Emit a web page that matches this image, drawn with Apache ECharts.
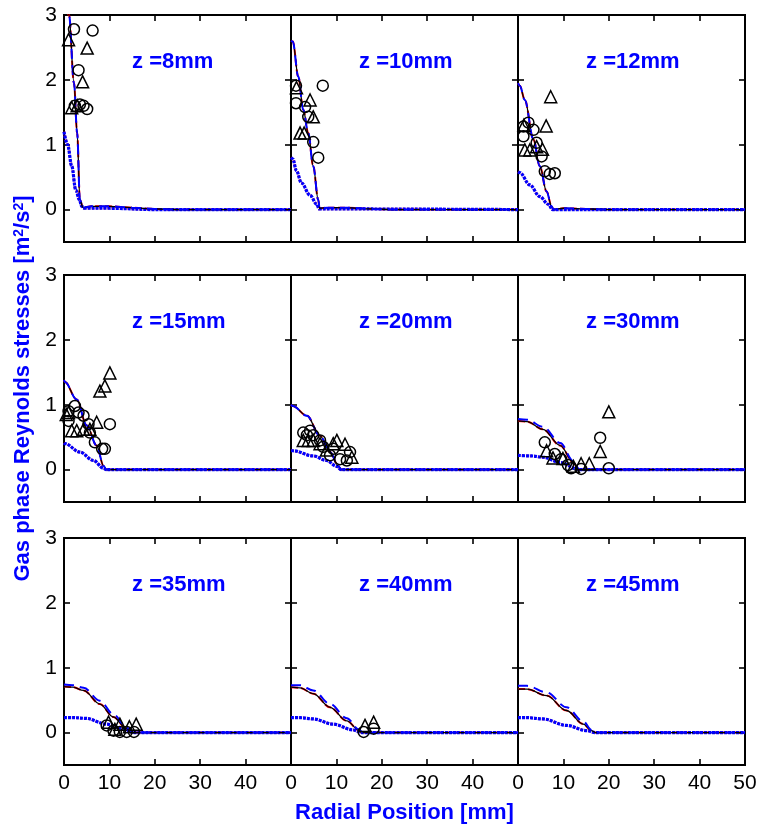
<!DOCTYPE html>
<html>
<head>
<meta charset="utf-8">
<script src="https://cdn.jsdelivr.net/npm/echarts@6/dist/echarts.min.js"></script>
<style>html,body{margin:0;padding:0;background:#fff}#chart{width:760px;height:830px}</style>
</head>
<body>
<div id="chart"></div>
<script>
// ---------- data (radial position mm, stress m2/s2) ----------
const panelLabels = ['z =8mm','z =10mm','z =12mm','z =15mm','z =20mm','z =30mm','z =35mm','z =40mm','z =45mm'];
const xTicks = [0,10,20,30,40,50];
const xLabelsShort = [0,10,20,30,40];
const yTicks = [0,1,2,3];

const z8Upper = [[0,3.2],[1.1,3.0],[2.2,1.95],[2.9,1.18],[3.5,0.15],[4.2,0.03],[6,0.05],[10,0.05],[15,0.03],[20,0.01],[25,0],[50,0]];
const z8Lower = [[0,1.2],[0.8,1.0],[1.7,0.67],[2.6,0.3],[3.4,0.15],[3.9,0.05],[4.5,0.02],[10,0.02],[20,0],[50,0]];
const z8Circles = [[2.2,2.78],[6.3,2.76],[3.2,2.15],[2.4,1.6],[4.3,1.6],[5.1,1.55],[3.5,1.62]];
const z8Triangles = [[1.0,2.62],[5.1,2.49],[4.1,1.97],[1.7,1.57],[2.9,1.6]];

const z10Upper = [[0,2.6],[0.4,2.59],[1.6,2.05],[2.7,1.54],[3.8,1.18],[4.9,0.67],[6.0,0.15],[6.3,0.02],[8,0.03],[12,0.03],[18,0.01],[22,0],[50,0]];
const z10Lower = [[0,0.8],[0.4,0.78],[1.2,0.6],[2.3,0.41],[4.2,0.22],[5.7,0.08],[6.2,0.01],[10,0.01],[50,0]];
const z10Circles = [[1.1,1.91],[7.0,1.91],[1.1,1.64],[3.1,1.58],[3.8,1.43],[4.9,1.04],[6.0,0.8]];
const z10Triangles = [[1.2,1.88],[4.2,1.69],[4.9,1.43],[2.0,1.18],[2.9,1.18]];

const z12Upper = [[0,1.95],[0.4,1.91],[1.5,1.69],[3.4,1.08],[4.8,0.67],[6.3,0.28],[7.4,0.05],[7.8,0],[10,0.02],[15,0.01],[20,0],[50,0]];
const z12Lower = [[0,0.58],[0.4,0.57],[2.6,0.38],[4.8,0.2],[6.7,0.08],[7.6,0],[50,0]];
const z12Circles = [[1.2,1.28],[2.3,1.34],[1.2,1.13],[3.4,1.23],[4.1,1.03],[5.2,0.82],[5.9,0.59],[7.0,0.55],[8.1,0.56]];
const z12Triangles = [[7.2,1.74],[6.2,1.29],[1.5,0.92],[2.6,0.92],[4.1,0.97],[5.4,0.93],[1.3,1.3]];

const z15Upper = [[0,1.38],[0.2,1.35],[2.8,1.08],[5.0,0.68],[7.2,0.37],[8.7,0.06],[9.3,0],[50,0]];
const z15Lower = [[0,0.41],[0.2,0.40],[3.5,0.27],[6.5,0.14],[8.7,0.02],[9.3,0],[50,0]];
const z15Circles = [[1.0,0.9],[2.4,0.98],[1.0,0.75],[3.2,0.88],[4.3,0.83],[5.4,0.7],[5.7,0.57],[6.8,0.42],[8.4,0.32],[9.0,0.32],[10.1,0.7]];
const z15Triangles = [[10.1,1.49],[9.0,1.29],[7.9,1.21],[1.0,0.88],[1.7,0.6],[2.8,0.6],[4.3,0.62],[5.7,0.62],[7.2,0.73],[0.5,0.85]];

const z20Upper = [[0,1.0],[0.4,0.98],[3.5,0.83],[6.4,0.52],[8.6,0.27],[10.4,0.06],[11,0],[50,0]];
const z20Lower = [[0,0.29],[0.4,0.29],[4.9,0.21],[7.8,0.14],[10.1,0.05],[11,0],[50,0]];
const z20Circles = [[2.7,0.57],[3.5,0.53],[4.2,0.6],[4.9,0.53],[6.4,0.45],[7.1,0.35],[8.6,0.22],[9.3,0.32],[10.8,0.16],[12.3,0.14],[13.0,0.27]];
const z20Triangles = [[2.7,0.45],[3.8,0.45],[4.9,0.45],[6.4,0.4],[7.8,0.3],[9.3,0.4],[10.1,0.45],[11.9,0.39],[13.4,0.19]];

const z30Upper = [[0,0.75],[2,0.74],[5.5,0.62],[9.3,0.37],[12.2,0.11],[13.3,0],[50,0]];
const z30UpperAlt = [[0,0.78],[2,0.77],[5.5,0.66],[9.3,0.41],[12.2,0.13],[13.5,0],[50,0]];
const z30Lower = [[0,0.22],[3,0.21],[5.5,0.19],[9.3,0.11],[13.0,0.01],[13.5,0],[50,0]];
const z30Circles = [[5.9,0.42],[8.1,0.24],[9.5,0.16],[11.0,0.07],[11.7,0.02],[13.9,0.01],[18.1,0.49],[20.0,0.02]];
const z30Triangles = [[20.0,0.89],[18.1,0.28],[6.3,0.29],[7.7,0.18],[9.9,0.17],[12.2,0.05],[13.9,0.09],[15.7,0.09]];

const z35Upper = [[0,0.71],[2,0.70],[4.3,0.65],[7.9,0.44],[10.9,0.24],[13.8,0.06],[14.9,0],[50,0]];
const z35UpperAlt = [[0,0.74],[2,0.73],[4.3,0.69],[7.9,0.49],[10.9,0.28],[13.8,0.08],[15.2,0],[50,0]];
const z35Lower = [[0,0.23],[2,0.23],[4.7,0.22],[9.4,0.13],[13.1,0.06],[15.3,0],[50,0]];
const z35Circles = [[9.4,0.11],[10.9,0.03],[12.3,0.01],[13.8,0.01],[15.4,0.01]];
const z35Triangles = [[9.8,0.16],[11.2,0.05],[12.3,0.13],[14.4,0.09],[15.9,0.13]];

const z40Upper = [[0,0.70],[2,0.69],[4.9,0.6],[8.6,0.39],[12.3,0.18],[14.9,0.04],[15.6,0],[50,0]];
const z40UpperAlt = [[0,0.73],[2,0.73],[4.9,0.65],[8.6,0.44],[12.3,0.22],[14.9,0.05],[15.8,0],[50,0]];
const z40Lower = [[0,0.23],[2,0.23],[4.9,0.21],[9.3,0.13],[13.7,0.04],[15.6,0],[50,0]];
const z40Circles = [[16.0,0.01],[18.2,0.06]];
const z40Triangles = [[16.3,0.11],[18.2,0.16]];

const z45Upper = [[0,0.67],[2,0.67],[6.3,0.57],[10.7,0.34],[14.4,0.13],[16.2,0.03],[17,0],[50,0]];
const z45UpperAlt = [[0,0.72],[2,0.72],[6.3,0.62],[10.7,0.39],[14.4,0.17],[16.2,0.04],[17.2,0],[50,0]];
const z45Lower = [[0,0.23],[2,0.23],[5.5,0.21],[10.7,0.11],[15.1,0.03],[17,0],[50,0]];
const z45Circles = [];
const z45Triangles = [];

const upperSets = [z8Upper,z10Upper,z12Upper,z15Upper,z20Upper,z30Upper,z35Upper,z40Upper,z45Upper];
const upperAltSets = [z8Upper,z10Upper,z12Upper,z15Upper,z20Upper,z30UpperAlt,z35UpperAlt,z40UpperAlt,z45UpperAlt];
const lowerSets = [z8Lower,z10Lower,z12Lower,z15Lower,z20Lower,z30Lower,z35Lower,z40Lower,z45Lower];
const circleSets = [z8Circles,z10Circles,z12Circles,z15Circles,z20Circles,z30Circles,z35Circles,z40Circles,z45Circles];
const triangleSets = [z8Triangles,z10Triangles,z12Triangles,z15Triangles,z20Triangles,z30Triangles,z35Triangles,z40Triangles,z45Triangles];

// ---------- layout ----------
const colLeft = [64, 291, 518];
const rowTop = [15, 275, 538];
const W = 227, H = 227;
const FONT = 'Liberation Sans, Arial, sans-serif';
const BLUE = '#0000ff';

const grid = [], xAxis = [], yAxis = [], series = [], graphic = [];
for (let i = 0; i < 9; i++) {
  const r = Math.floor(i / 3), c = i % 3;
  grid.push({left: colLeft[c], top: rowTop[r], width: W, height: H, show: true,
    borderColor: '#000', borderWidth: 2, backgroundColor: 'rgba(0,0,0,0)', containLabel: false});
  const tick = {show: true, inside: true, length: 6, lineStyle: {color: '#000', width: 1.6}};
  const noLine = {show: false, onZero: false};
  const xBottom = {type: 'value', gridIndex: i, min: 0, max: 50, interval: 10, position: 'bottom',
    axisLine: noLine, splitLine: {show: false},
    axisTick: Object.assign({customValues: xTicks}, tick),
    axisLabel: {show: r === 2, customValues: c === 2 ? xTicks : xLabelsShort, color: '#000', fontSize: 21, fontFamily: FONT, margin: 8}};
  if (i === 7) {
    Object.assign(xBottom, {name: 'Radial Position [mm]', nameLocation: 'middle', nameGap: 37,
      nameTextStyle: {color: BLUE, fontSize: 22, fontWeight: 'bold', fontFamily: FONT}});
  }
  xAxis.push(xBottom);
  xAxis.push({type: 'value', gridIndex: i, min: 0, max: 50, interval: 10, position: 'top',
    axisLine: noLine, splitLine: {show: false},
    axisTick: Object.assign({customValues: xTicks}, tick), axisLabel: {show: false}});
  const yLeft = {type: 'value', gridIndex: i, min: -0.5, max: 3, position: 'left',
    axisLine: noLine, splitLine: {show: false},
    axisTick: Object.assign({customValues: yTicks}, tick),
    axisLabel: {show: c === 0, customValues: yTicks, color: '#000', fontSize: 21, fontFamily: FONT, margin: 7}};
  if (i === 3) {
    Object.assign(yLeft, {name: 'Gas phase Reynolds stresses [m{sup|2}/s{sup|2}]', nameLocation: 'middle',
      nameRotate: 90, nameGap: 30,
      nameTextStyle: {color: BLUE, fontSize: 22, fontWeight: 'bold', fontFamily: FONT,
        rich: {sup: {fontSize: 14, fontWeight: 'bold', color: BLUE, fontFamily: FONT, verticalAlign: 'top'}}}});
  }
  yAxis.push(yLeft);
  yAxis.push({type: 'value', gridIndex: i, min: -0.5, max: 3, position: 'right',
    axisLine: noLine, splitLine: {show: false},
    axisTick: Object.assign({customValues: yTicks}, tick), axisLabel: {show: false}});

  const ax = {xAxisIndex: 2 * i, yAxisIndex: 2 * i};
  const lineBase = Object.assign({type: 'line', showSymbol: false, symbol: 'none', smooth: 0.35, smoothMonotone: 'x', silent: true, animation: false}, ax);
  series.push(Object.assign({}, lineBase, {data: lowerSets[i], lineStyle: {color: '#ff0000', width: 2.5, type: [2, 2]}, z: 2}));
  series.push(Object.assign({}, lineBase, {data: lowerSets[i], lineStyle: {color: BLUE, width: 3.2, type: [3, 1]}, z: 3}));
  series.push(Object.assign({}, lineBase, {data: upperSets[i], lineStyle: {color: '#ff0000', width: 2, type: [7, 3]}, z: 2}));
  series.push(Object.assign({}, lineBase, {data: upperSets[i], lineStyle: {color: '#000', width: 1.3, type: 'solid'}, z: 3}));
  series.push(Object.assign({}, lineBase, {data: upperAltSets[i], lineStyle: {color: BLUE, width: 2, type: [10, 6]}, z: 4}));
  const sc = {type: 'scatter', silent: true, animation: false, z: 5,
    itemStyle: {color: 'rgba(0,0,0,0)', borderColor: '#000', borderWidth: 1.5, opacity: 1}};
  series.push(Object.assign({}, sc, ax, {data: circleSets[i], symbol: 'circle', symbolSize: 11}));
  series.push(Object.assign({}, sc, ax, {data: triangleSets[i], symbol: 'triangle', symbolSize: 12}));

  graphic.push({type: 'text', x: colLeft[c] + W * 15 / 50, y: rowTop[r] + H * (3 - 2.27) / 3.5,
    style: {text: panelLabels[i], fill: BLUE, font: 'bold 22px ' + FONT, align: 'left', verticalAlign: 'middle'}, z: 10});
}

const chart = echarts.init(document.getElementById('chart'), null, {renderer: 'canvas'});
chart.setOption({animation: false, backgroundColor: '#fff', grid, xAxis, yAxis, series, graphic});
</script>
</body>
</html>
